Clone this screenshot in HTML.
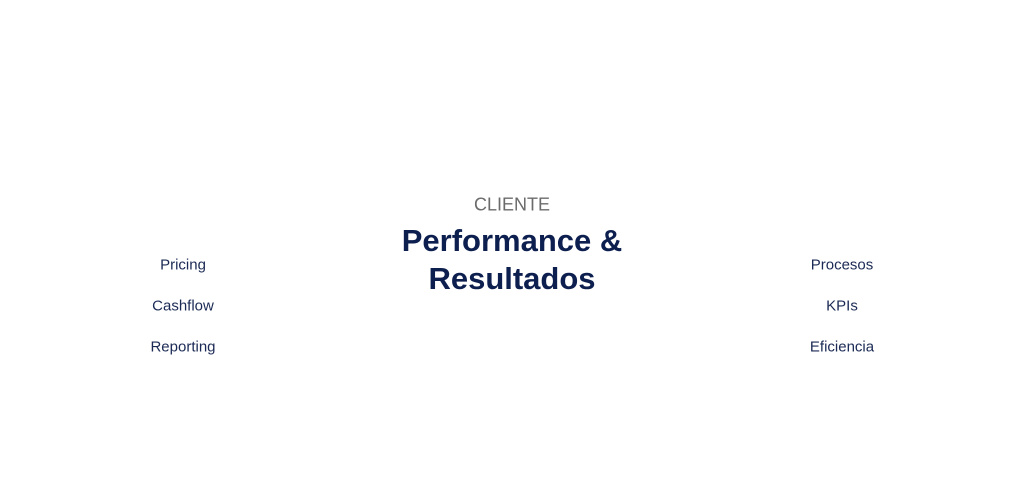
<!DOCTYPE html>
<html><head><meta charset="utf-8"><style>
html,body{margin:0;padding:0;background:#fff;width:1024px;height:490px;overflow:hidden;font-family:"Liberation Sans",sans-serif}
.t{position:absolute;transform:translate(-50%,-50%);white-space:nowrap}
.s{font-size:15px;color:#1b2a55}
</style></head><body>
<div class="t" style="left:512px;top:205px;font-size:18px;color:#6b6b6b">CLIENTE</div>
<div class="t" style="left:512px;top:241px;font-size:31px;font-weight:bold;color:#0d1f4f">Performance &amp;</div>
<div class="t" style="left:512px;top:279px;font-size:31px;font-weight:bold;color:#0d1f4f">Resultados</div>
<div class="t s" style="left:183px;top:265px">Pricing</div>
<div class="t s" style="left:183px;top:306px">Cashflow</div>
<div class="t s" style="left:183px;top:347px">Reporting</div>
<div class="t s" style="left:842px;top:265px">Procesos</div>
<div class="t s" style="left:842px;top:306px">KPIs</div>
<div class="t s" style="left:842px;top:347px">Eficiencia</div>
</body></html>
